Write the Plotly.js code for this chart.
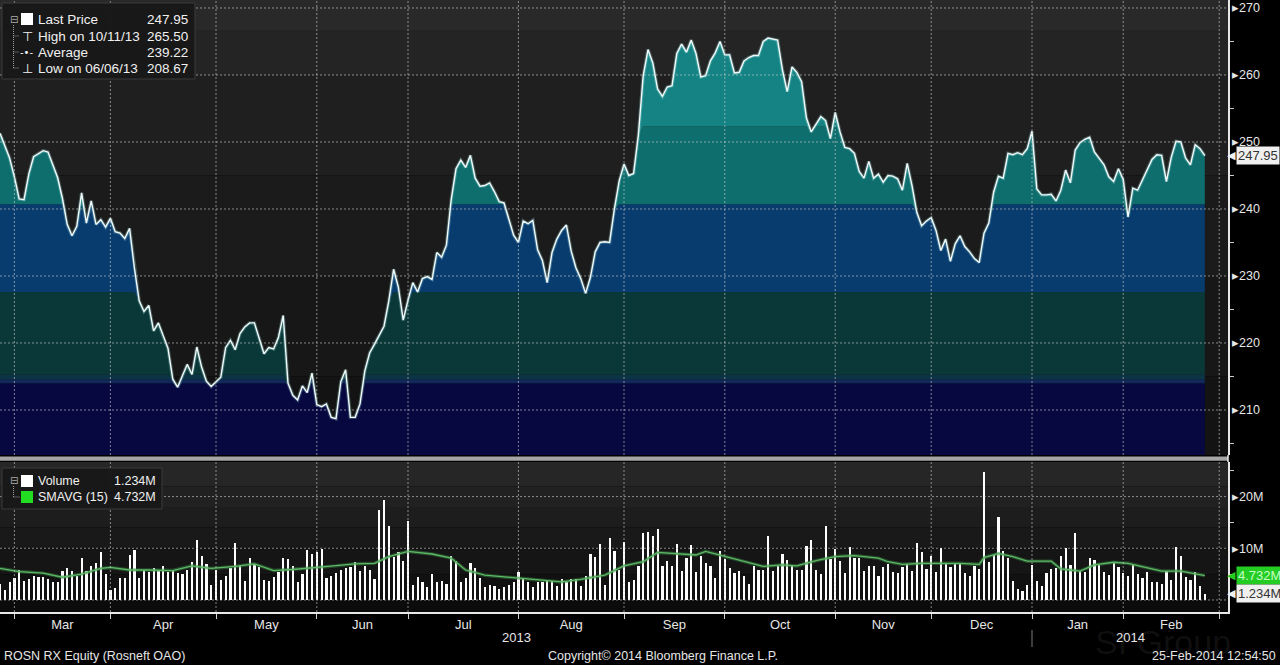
<!DOCTYPE html>
<html><head><meta charset="utf-8">
<script src="https://cdn.plot.ly/plotly-3.0.1.min.js"></script>
<style>html,body{margin:0;padding:0;background:#000;} #chart{width:1280px;height:665px;}</style>
</head><body><div id="chart"></div>
<script>
// ---- data (trading-day index 0 = 26-Feb-2013 ... 251 = 25-Feb-2014) ----
const price = [
251.3, 249.3, 247.6, 244.8, 241.5, 241.4, 245.2, 247.8, 248.2, 248.7,
248.5, 246.6, 244.7, 241.6, 237.7, 236.0, 237.4, 242.4, 237.9, 241.2,
237.7, 238.4, 237.3, 238.6, 236.6, 236.4, 235.6, 237.1, 231.2, 226.3,
224.7, 225.6, 221.8, 223.0, 221.0, 219.2, 214.6, 213.4, 215.1, 216.8,
215.3, 219.4, 216.4, 214.3, 213.5, 214.2, 214.9, 219.3, 220.4, 219.0,
221.4, 222.4, 223.0, 223.0, 220.6, 218.4, 219.3, 219.1, 220.8, 224.1,
214.0, 212.2, 211.5, 213.6, 212.6, 215.5, 210.8, 210.5, 210.9, 208.9,
208.7, 214.2, 216.0, 208.9, 208.9, 210.9, 215.8, 218.5, 219.8, 221.1,
222.5, 226.3, 231.0, 228.3, 223.4, 226.4, 229.0, 227.6, 229.6, 229.9,
229.5, 233.5, 232.8, 234.6, 241.4, 246.0, 247.3, 246.2, 248.0, 244.6,
243.4, 243.5, 243.9, 242.6, 241.1, 240.9, 238.6, 236.1, 235.0, 238.2,
237.8, 238.3, 233.9, 232.3, 229.0, 233.5, 235.5, 236.8, 237.6, 233.7,
231.2, 229.6, 227.4, 229.8, 233.6, 235.0, 235.1, 235.0, 240.0, 244.2,
246.7, 245.0, 245.3, 251.1, 259.9, 263.8, 261.8, 257.9, 256.8, 258.2,
258.4, 263.2, 264.6, 263.4, 265.2, 263.2, 259.7, 259.9, 262.1, 263.3,
265.0, 263.0, 263.0, 260.3, 260.4, 262.1, 262.6, 262.9, 262.9, 265.0,
265.5, 265.3, 265.2, 260.8, 257.5, 261.2, 260.4, 259.0, 253.6, 251.5,
252.6, 253.8, 253.2, 250.5, 254.4, 251.5, 249.2, 249.0, 248.3, 245.6,
244.6, 247.1, 244.6, 245.2, 244.0, 245.0, 244.9, 244.5, 242.8, 246.8,
243.5, 239.5, 237.5, 238.2, 238.7, 236.8, 233.8, 235.5, 232.2, 234.8,
236.0, 234.4, 233.6, 232.6, 232.0, 236.4, 237.9, 242.5, 244.9, 244.6,
248.3, 248.1, 248.4, 248.1, 249.0, 251.6, 243.0, 242.1, 242.1, 242.2,
241.2, 242.8, 245.8, 243.9, 248.8, 249.9, 250.4, 250.7, 248.5, 247.6,
246.6, 244.8, 244.1, 246.0, 244.4, 238.8, 243.1, 242.8, 244.3, 246.0,
247.4, 248.1, 248.0, 244.1, 247.7, 250.1, 250.0, 247.6, 246.6, 249.6,
249.0, 247.95
];
const volume = [ // millions
3.0, 1.9, 3.4, 4.2, 5.8, 3.7, 4.0, 4.6, 4.4, 4.5,
4.0, 3.5, 3.4, 5.7, 6.1, 5.7, 4.6, 8.1, 5.6, 6.5,
7.2, 9.2, 5.0, 1.9, 2.3, 4.2, 4.2, 8.7, 9.7, 4.2,
5.8, 5.5, 6.1, 5.8, 6.6, 5.5, 5.9, 5.2, 5.0, 5.8,
7.4, 11.7, 8.5, 7.0, 2.9, 5.8, 3.9, 4.6, 6.1, 11.1,
6.6, 3.7, 8.1, 7.0, 6.3, 3.9, 3.7, 4.4, 5.5, 8.1,
7.9, 6.5, 3.5, 5.0, 9.7, 8.9, 9.2, 9.9, 4.2, 4.6,
5.2, 5.9, 6.1, 6.3, 7.4, 5.7, 6.5, 5.8, 4.0, 17.4,
19.4, 14.3, 8.4, 9.2, 7.6, 15.2, 2.9, 4.4, 3.5, 2.6,
5.0, 3.4, 3.7, 3.1, 8.5, 7.6, 3.5, 4.2, 7.2, 6.1,
4.2, 2.5, 2.9, 2.7, 2.1, 2.5, 2.9, 3.5, 5.5, 4.2,
3.4, 2.5, 3.4, 3.5, 3.9, 3.7, 2.7, 4.0, 3.4, 4.0,
4.0, 2.7, 4.6, 8.9, 8.3, 10.8, 2.9, 11.9, 9.4, 5.9,
11.3, 3.5, 3.9, 6.5, 12.9, 13.2, 12.4, 13.7, 6.5, 7.6,
6.6, 10.8, 5.7, 8.1, 10.6, 5.5, 8.5, 7.2, 6.5, 4.2,
9.4, 7.9, 6.1, 5.3, 5.7, 4.6, 3.1, 6.6, 5.8, 5.9,
12.4, 5.7, 6.6, 8.9, 7.7, 6.8, 5.9, 5.9, 10.5, 11.6,
5.9, 5.1, 14.3, 7.9, 9.9, 7.5, 5.2, 10.3, 8.1, 8.1,
5.6, 6.5, 6.5, 4.7, 6.3, 6.9, 5.4, 5.2, 6.3, 6.9,
5.6, 11.0, 9.2, 6.0, 8.6, 5.4, 10.0, 7.1, 6.3, 6.9,
6.9, 5.2, 4.7, 6.6, 6.0, 24.7, 7.4, 8.7, 16.1, 9.5,
8.2, 3.7, 2.1, 1.7, 2.9, 6.8, 3.7, 2.8, 5.2, 6.0,
6.1, 8.6, 10.0, 6.8, 12.9, 5.6, 5.4, 8.2, 7.7, 6.8,
5.4, 4.8, 7.3, 6.3, 5.2, 4.7, 6.9, 5.0, 4.2, 5.4,
3.5, 3.5, 3.0, 5.6, 3.9, 10.3, 8.6, 4.5, 3.9, 5.4,
2.8, 1.234
];
const smaIdx = [0,4,9,13,17,21,23,27,31,36,40,44,49,53,57,61,66,70,74,78,
81,85,90,94,97,101,106,112,117,121,126,130,134,137,141,145,147,151,155,159,
163,166,170,174,178,183,185,188,192,196,200,204,205,208,211,214,219,221,225,228,
232,235,239,242,246,251];
const smaVal = [6.1,5.5,5.2,4.4,5.0,6.1,6.3,5.8,5.8,5.7,6.6,6.1,6.5,7.0,5.7,5.9,6.3,6.6,7.0,7.1,
8.4,9.4,8.9,8.1,5.8,4.8,4.4,3.9,3.5,4.0,4.8,6.6,7.4,9.2,8.9,8.7,9.4,8.4,7.4,6.5,
6.8,6.6,7.6,8.4,8.6,8.1,7.4,6.9,7.1,7.1,7.1,6.9,8.2,9.0,8.4,7.5,7.5,6.0,5.6,6.8,
7.3,7.1,6.3,5.6,5.6,4.732];
const monthStarts = [3, 23, 45, 66, 85, 108, 130, 151, 174, 194, 215, 234, 254];
const monthLabels = ['Mar','Apr','May','Jun','Jul','Aug','Sep','Oct','Nov','Dec','Jan','Feb'];
const yearLabels = ['2013','2014'];
const yearStarts = [0, 215];
const priceTicks = [210,220,230,240,250,260,270];
const volTicks = [0,10,20];
const volTickText = ['','10M','20M'];
const priceLegend = [['Last Price','247.95'],['High on 10/11/13','265.50'],['Average','239.22'],['Low on 06/06/13','208.67']];
const volLegend = [['Volume','1.234M'],['SMAVG (15)','4.732M']];
const lastPrice = 247.95, lastVol = 1.234, lastSma = 4.732;

// ---- layout helpers ----
const W = 1228, H = 612, X_END = 255.83;
const PX = x => x / W, PY = y => 1 - y / H;
const PRICE_DOM = [PY(455), 1], VOL_DOM = [0, PY(462)];
const FONT = 'Liberation Sans, Arial, sans-serif';
const days = price.map((_, i) => i);

const bandTops = [214.0, 214.6, 215.3, 227.6, 240.7, 252.3, 272];
const bandColors = ['#080840', '#10285a', '#0c3447', '#0a3737', '#083b6e', '#0e6d6d', '#158383'];

const traces = [];
bandTops.forEach((b, k) => {
  traces.push({type:'scatter', mode:'lines', x:days, y:price.map(p => Math.min(p, b)),
    xaxis:'x', yaxis:'y', fill: k === 0 ? 'tozeroy' : 'tonexty', fillcolor: bandColors[k],
    line:{width:0, color:bandColors[k]}, hoverinfo:'skip'});
});
traces.push({type:'scatter', mode:'lines', x:days, y:price, xaxis:'x', yaxis:'y',
  line:{color:'rgba(170,235,235,0.28)', width:3.5}, hoverinfo:'skip'});
traces.push({type:'scatter', mode:'lines', x:days, y:price, xaxis:'x', yaxis:'y',
  line:{color:'#f2fbfb', width:1.4}, hoverinfo:'skip'});
traces.push({type:'bar', x:days, y:volume, xaxis:'x2', yaxis:'y2', width:0.46,
  marker:{color:'#ffffff', line:{width:0}}, hoverinfo:'skip'});
traces.push({type:'scatter', mode:'lines', x:smaIdx, y:smaVal, xaxis:'x2', yaxis:'y2',
  line:{color:'rgba(60,140,70,0.45)', width:3.5}, hoverinfo:'skip'});
traces.push({type:'scatter', mode:'lines', x:smaIdx, y:smaVal, xaxis:'x2', yaxis:'y2',
  line:{color:'#5cb865', width:1.3}, hoverinfo:'skip'});

const shapes = [];
// background gradient steps
[[266.7,271.19,'#292929'],[260,266.7,'#242424'],[245,260,'#1f1f1f'],[230,245,'#1b1b1b'],[215,230,'#171717'],[203.28,215,'#131313']]
 .forEach(s => shapes.push({type:'rect', layer:'below', xref:'paper', yref:'y', x0:0, x1:1, y0:s[0], y1:s[1], fillcolor:s[2], line:{width:0}}));
[[22,26.69,'#262626'],[18,22,'#212121'],[14,18,'#1d1d1d'],[10,14,'#191919'],[5,10,'#151515'],[0,5,'#111111'],[-2.32,0,'#0b0b0b']]
 .forEach(s => shapes.push({type:'rect', layer:'below', xref:'paper', yref:'y2', x0:0, x1:1, y0:s[0], y1:s[1], fillcolor:s[2], line:{width:0}}));
// grid (dotted, above fills)
const GRID = {color:'rgba(205,205,205,0.62)', width:1, dash:'2px,2px'};
priceTicks.forEach(v => shapes.push({type:'line', layer:'above', xref:'paper', yref:'y', x0:0, x1:1, y0:v, y1:v, line:GRID}));
volTicks.forEach(v => shapes.push({type:'line', layer:'above', xref:'paper', yref:'y2', x0:0, x1:1, y0:v, y1:v, line:GRID}));
monthStarts.forEach(m => {
  shapes.push({type:'line', layer:'above', xref:'x', yref:'paper', x0:m, x1:m, y0:PRICE_DOM[0], y1:1, line:GRID});
  shapes.push({type:'line', layer:'above', xref:'x2', yref:'paper', x0:m, x1:m, y0:0, y1:VOL_DOM[1], line:GRID});
});
// separator bar between panels
shapes.push({type:'rect', layer:'above', xref:'paper', yref:'paper', x0:0, x1:1, y0:PY(460.8), y1:PY(456.5), fillcolor:'#a6a6a6', line:{width:0}});
shapes.push({type:'line', layer:'above', xref:'paper', yref:'paper', x0:1, x1:1, y0:PY(462), y1:PY(455), line:{color:'#e8e8e8', width:1.5}});
// year separator
shapes.push({type:'line', xref:'x2', yref:'paper', x0:yearStarts[1], x1:yearStarts[1], y0:PY(647), y1:PY(630), line:{color:'#7a7a7a', width:1}});
// legend boxes
shapes.push({type:'rect', layer:'above', xref:'paper', yref:'paper', x0:PX(2), x1:PX(195), y0:PY(79), y1:PY(3), fillcolor:'rgba(24,24,24,0.96)', line:{color:'#3a3a3a', width:1}});
shapes.push({type:'rect', layer:'above', xref:'paper', yref:'paper', x0:PX(2), x1:PX(162), y0:PY(509), y1:PY(468), fillcolor:'rgba(24,24,24,0.96)', line:{color:'#3a3a3a', width:1}});
shapes.push({type:'rect', layer:'above', xref:'paper', yref:'paper', x0:PX(21), x1:PX(33), y0:PY(25), y1:PY(13), fillcolor:'#ffffff', line:{width:0}});
shapes.push({type:'rect', layer:'above', xref:'paper', yref:'paper', x0:PX(21), x1:PX(33), y0:PY(487), y1:PY(475), fillcolor:'#ffffff', line:{width:0}});
shapes.push({type:'rect', layer:'above', xref:'paper', yref:'paper', x0:PX(21), x1:PX(33), y0:PY(503), y1:PY(491), fillcolor:'#22dd22', line:{width:0}});
const TREE = {color:'#9a9a9a', width:1, dash:'1px,1px'};
shapes.push({type:'line', layer:'above', xref:'paper', yref:'paper', x0:PX(13.5), x1:PX(13.5), y0:PY(68), y1:PY(24), line:TREE});
[36,52,68].forEach(y => shapes.push({type:'line', layer:'above', xref:'paper', yref:'paper', x0:PX(13.5), x1:PX(19), y0:PY(y), y1:PY(y), line:TREE}));
shapes.push({type:'line', layer:'above', xref:'paper', yref:'paper', x0:PX(13.5), x1:PX(13.5), y0:PY(497), y1:PY(486), line:TREE});
shapes.push({type:'line', layer:'above', xref:'paper', yref:'paper', x0:PX(13.5), x1:PX(20), y0:PY(497), y1:PY(497), line:TREE});

const ann = [];
const A = (o) => ann.push(Object.assign({showarrow:false, xanchor:'center', yanchor:'middle',
  font:{family:FONT, size:13, color:'#e8e8e8'}}, o));
// watermark (very faint, behind the bottom-right labels)
A({xref:'paper', yref:'paper', x:PX(1163), y:PY(642), text:'SI Group', font:{family:FONT, size:34, color:'rgba(255,255,255,0.07)'}});
// price legend
const rowY = [19, 36, 52, 68];
A({xref:'paper', yref:'paper', x:PX(13.5), y:PY(19), text:'⊟', font:{family:'DejaVu Sans', size:10, color:'#aaaaaa'}});
A({xref:'paper', yref:'paper', x:PX(27), y:PY(36), text:'⊤', font:{family:'DejaVu Sans', size:13, color:'#f0f0f0'}});
A({xref:'paper', yref:'paper', x:PX(27), y:PY(52), text:'-•-', font:{family:'DejaVu Sans', size:10, color:'#f0f0f0'}});
A({xref:'paper', yref:'paper', x:PX(27), y:PY(68), text:'⊥', font:{family:'DejaVu Sans', size:13, color:'#f0f0f0'}});
priceLegend.forEach((r, i) => {
  A({xref:'paper', yref:'paper', x:PX(36), y:PY(rowY[i]), xanchor:'left', text:r[0], font:{family:FONT, size:13.5, color:'#f0f0f0'}});
  A({xref:'paper', yref:'paper', x:PX(190), y:PY(rowY[i]), xanchor:'right', text:r[1], font:{family:FONT, size:13.5, color:'#f0f0f0'}});
});
// volume legend
const vRowY = [481, 497];
A({xref:'paper', yref:'paper', x:PX(13.5), y:PY(480), text:'⊟', font:{family:'DejaVu Sans', size:10, color:'#aaaaaa'}});
volLegend.forEach((r, i) => {
  A({xref:'paper', yref:'paper', x:PX(36), y:PY(vRowY[i]), xanchor:'left', text:r[0], font:{family:FONT, size:12.5, color:'#f0f0f0'}});
  A({xref:'paper', yref:'paper', x:PX(158), y:PY(vRowY[i]), xanchor:'right', text:r[1], font:{family:FONT, size:12.5, color:'#f0f0f0'}});
});
// last-value tags
const tag = (yref, y, text, bg, fg) => {
  A({xref:'paper', yref:yref, x:PX(1238), y:y, xanchor:'right', text:'◀', font:{family:'DejaVu Sans', size:11, color:bg}});
  A({xref:'paper', yref:yref, x:PX(1236), y:y, xanchor:'left', text:text, bgcolor:bg, borderpad:1, font:{family:FONT, size:13, color:fg}});
};
tag('y', lastPrice, lastPrice.toFixed(2), '#f0f0f0', '#333333');
tag('y2', lastSma, lastSma.toFixed(3) + 'M', '#24cc24', '#c4ffc4');
tag('y2', lastVol, lastVol.toFixed(3) + 'M', '#f0f0f0', '#333333');
// year labels
yearLabels.forEach((t, i) => {
  const end = i + 1 < yearStarts.length ? yearStarts[i + 1] : X_END;
  A({xref:'x2', yref:'paper', x:(yearStarts[i] + end) / 2, y:PY(637), text:t, font:{family:FONT, size:13, color:'#e6e6e6'}});
});
// footer
A({xref:'paper', yref:'paper', x:PX(2), y:PY(656), xanchor:'left', text:'ROSN RX Equity (Rosneft OAO)', font:{family:FONT, size:12.5, color:'#e6e6e6'}});
A({xref:'paper', yref:'paper', x:PX(663), y:PY(656), text:'Copyright© 2014 Bloomberg Finance L.P.', font:{family:FONT, size:12.5, color:'#e6e6e6'}});
A({xref:'paper', yref:'paper', x:PX(1278), y:PY(656), xanchor:'right', text:'25-Feb-2014 12:54:50', font:{family:FONT, size:12.5, color:'#e6e6e6'}});

const labelPos = monthLabels.map((_, k) => (monthStarts[k] + monthStarts[k + 1]) / 2);

const layout = {
  width:1280, height:665, margin:{l:0, r:52, t:0, b:53, pad:0},
  paper_bgcolor:'#000000', plot_bgcolor:'#000000',
  font:{family:FONT, color:'#e6e6e6', size:12},
  showlegend:false, hovermode:false, bargap:0,
  xaxis:{domain:[0,1], anchor:'y', range:[0, X_END], showticklabels:false, ticks:'', showgrid:false, zeroline:false, showline:false, fixedrange:true},
  xaxis2:{domain:[0,1], anchor:'y2', range:[0, X_END], tickmode:'array', tickvals:labelPos, ticktext:monthLabels,
    ticks:'', showgrid:false, zeroline:false, showline:true, linecolor:'#e8e8e8', linewidth:1.5,
    tickfont:{family:FONT, size:13, color:'#e6e6e6'},
    minor:{tickmode:'array', tickvals:monthStarts, ticks:'outside', ticklen:5, tickcolor:'#d0d0d0', tickwidth:1, showgrid:false}},
  yaxis:{domain:PRICE_DOM, anchor:'x', side:'right', range:[203.28, 271.19], tickmode:'array', tickvals:priceTicks,
    ticktext:priceTicks.map(v => '▸' + v), ticks:'', showgrid:false, zeroline:false, showline:true, linecolor:'#e8e8e8', linewidth:1.5,
    tickfont:{family:FONT, size:12.5, color:'#e6e6e6'},
    minor:{tickmode:'linear', tick0:205, dtick:10, ticks:'outside', ticklen:4, tickcolor:'#cfcfcf', tickwidth:1, showgrid:false}},
  yaxis2:{domain:VOL_DOM, anchor:'x2', side:'right', range:[-2.32, 26.69], tickmode:'array', tickvals:volTicks,
    ticktext:volTickText.map(t => t ? '▸' + t : ''), ticks:'', showgrid:false, zeroline:false, showline:true, linecolor:'#e8e8e8', linewidth:1.5,
    tickfont:{family:FONT, size:12.5, color:'#e6e6e6'},
    minor:{tickmode:'linear', tick0:5, dtick:10, ticks:'outside', ticklen:4, tickcolor:'#cfcfcf', tickwidth:1, showgrid:false}},
  shapes:shapes, annotations:ann
};
Plotly.newPlot('chart', traces, layout, {staticPlot:true, displayModeBar:false});
</script></body></html>
